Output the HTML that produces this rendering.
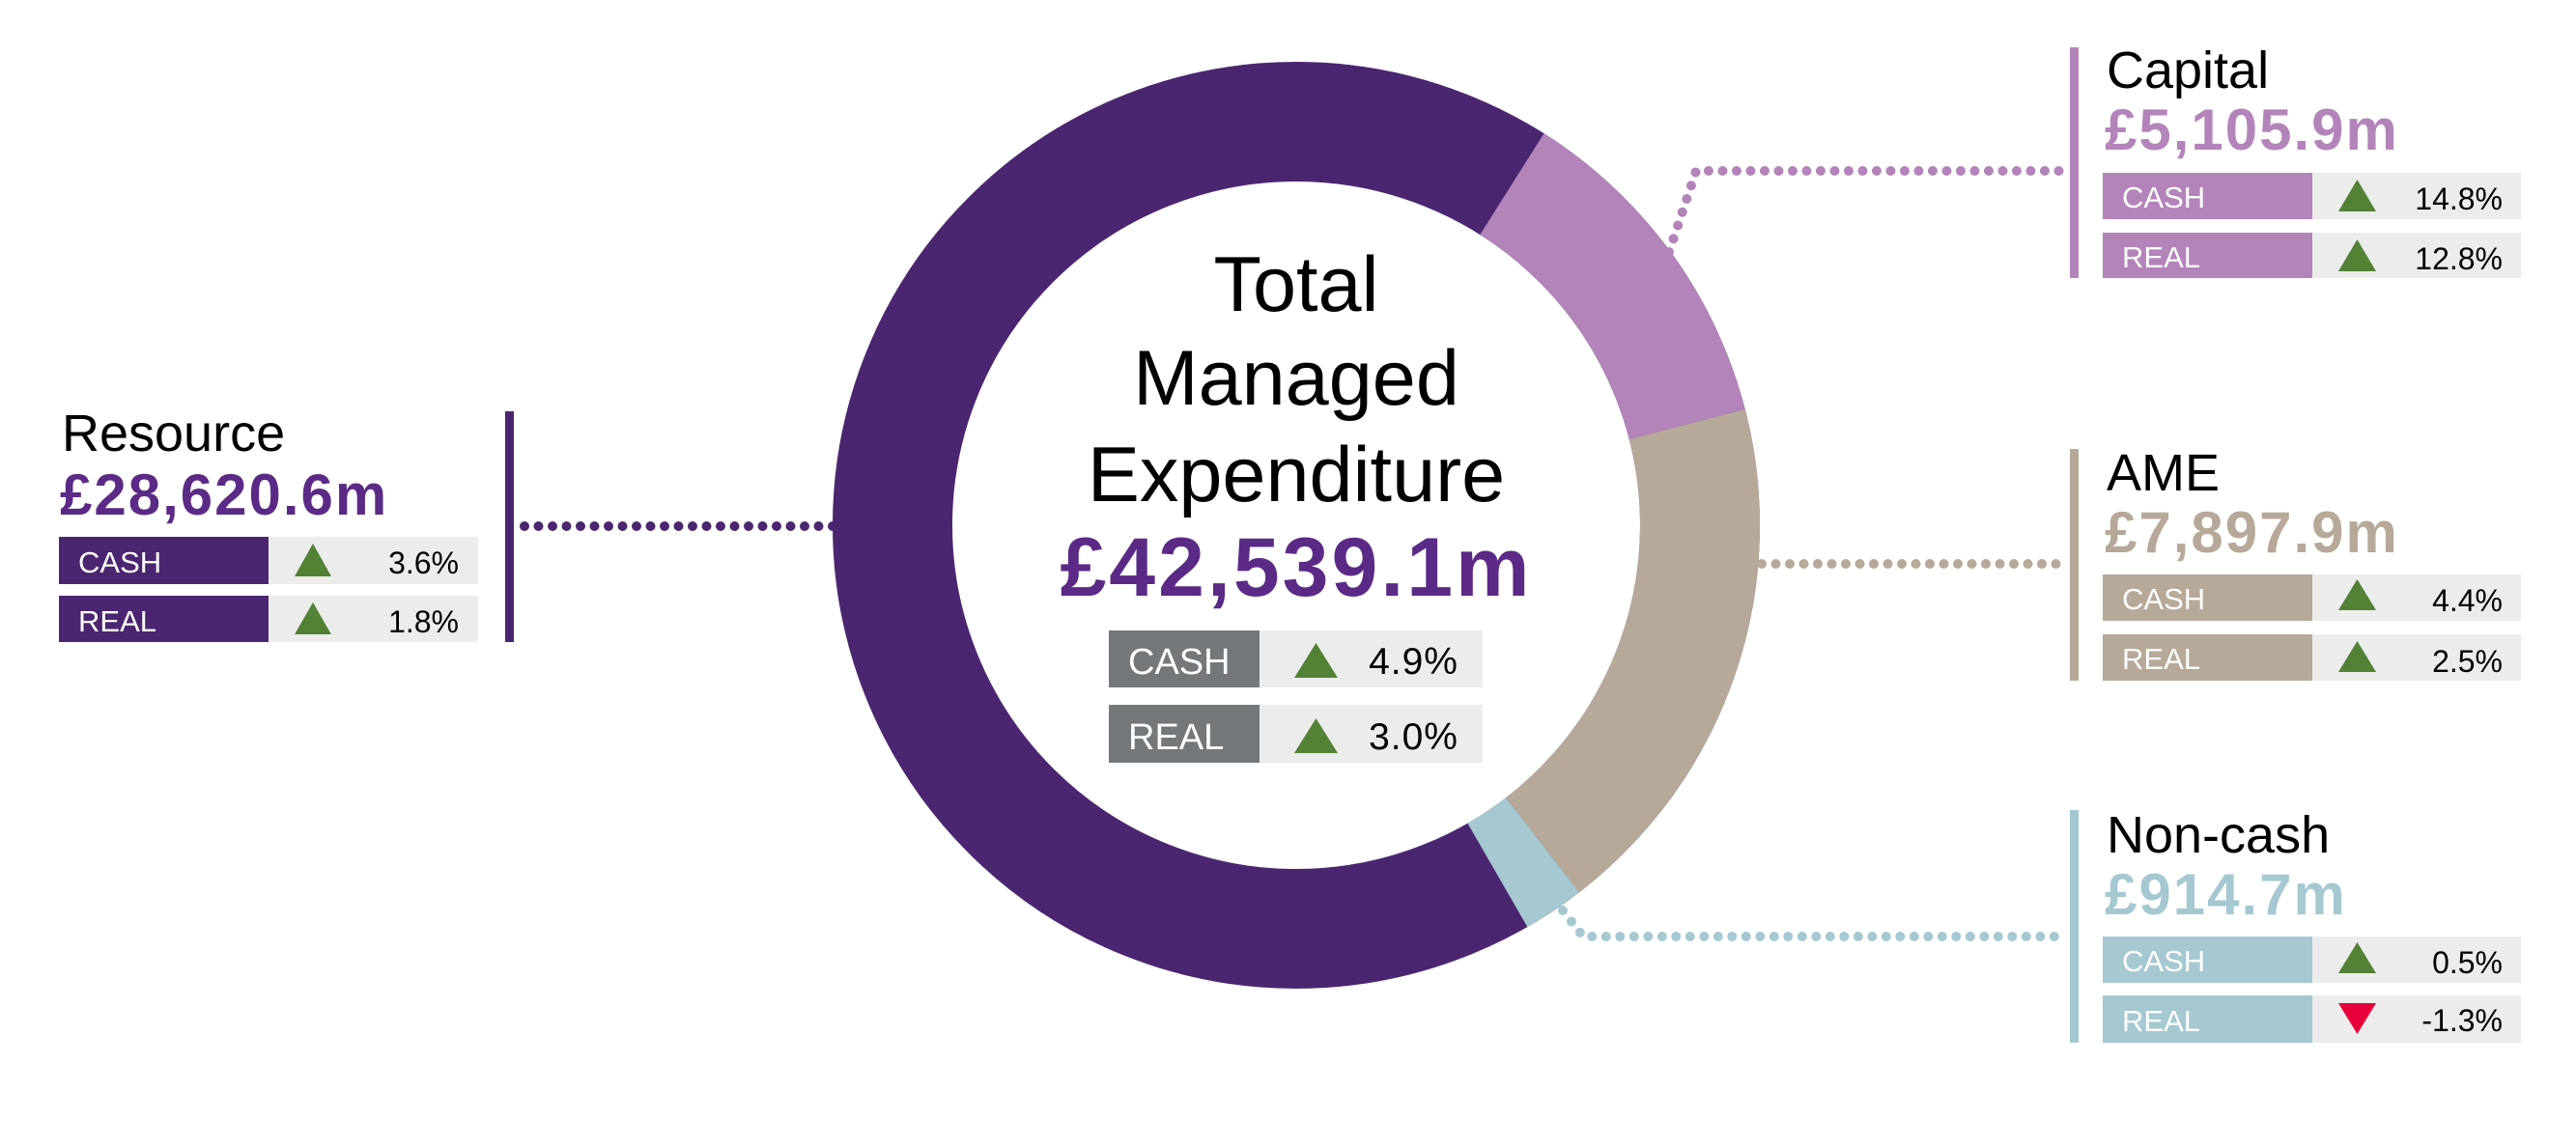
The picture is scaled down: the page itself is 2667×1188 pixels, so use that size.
<!DOCTYPE html>
<html><head><meta charset="utf-8"><style>
html,body{margin:0;padding:0;background:#fff}
svg{display:block}
text{font-family:"Liberation Sans",sans-serif}
</style></head><body>
<svg width="2667" height="1188" viewBox="0 0 2667 1188" xmlns="http://www.w3.org/2000/svg">
<circle cx="1342" cy="544" r="418" fill="none" stroke="#4b2670" stroke-width="124"/>
<path d="M1565.4,190.7 A418,418 0 0 1 1746.7,439.3" fill="none" stroke="#b384b9" stroke-width="124"/>
<path d="M1746.7,439.3 A418,418 0 0 1 1597.0,875.2" fill="none" stroke="#b6a999" stroke-width="124"/>
<path d="M1597.0,875.2 A418,418 0 0 1 1550.4,906.4" fill="none" stroke="#a5c8d1" stroke-width="124"/>

<g fill="none" stroke-width="10" stroke-linecap="round" stroke-dasharray="0 14.5">
<path d="M862,545 L535,545" stroke="#4b2670"/>
<path d="M1728,261 L1756,177 L2142,177" stroke="#b384b9"/>
<path d="M1824,584 L2142,584" stroke="#b6a999"/>
<path d="M1618,943 L1639,970 L2140,970" stroke="#a5c8d1"/>
</g>

<g text-anchor="middle" fill="#000">
<text x="1342" y="322" font-size="81">Total</text>
<text x="1342" y="419" font-size="81">Managed</text>
<text x="1342" y="519" font-size="81">Expenditure</text>
<text x="1342" y="617" font-size="86" font-weight="bold" letter-spacing="3" fill="#5b2a86">£42,539.1m</text>
</g>
<rect x="1148" y="653" width="156" height="59" fill="#74787b"/>
<rect x="1304" y="653" width="231" height="59" fill="#ececec"/>
<rect x="1148" y="730" width="156" height="60" fill="#74787b"/>
<rect x="1304" y="730" width="231" height="60" fill="#ececec"/>
<text x="1168" y="698" font-size="38" fill="#fff">CASH</text>
<text x="1168" y="776" font-size="38" fill="#fff">REAL</text>
<polygon points="1340,702 1385,702 1362.5,666" fill="#538135"/>
<polygon points="1340,780 1385,780 1362.5,744" fill="#538135"/>
<text x="1510" y="698" font-size="39" text-anchor="end" letter-spacing="1">4.9%</text>
<text x="1510" y="776" font-size="39" text-anchor="end" letter-spacing="1">3.0%</text>

<rect x="523" y="426" width="9" height="239" fill="#4b2670"/>
<text x="64" y="467" font-size="54">Resource</text>
<text x="62" y="533" font-size="60" font-weight="bold" letter-spacing="2" fill="#5b2a86">£28,620.6m</text>
<rect x="61" y="556" width="217" height="49" fill="#4b2670"/>
<rect x="278" y="556" width="217" height="49" fill="#ececec"/>
<rect x="61" y="617" width="217" height="48" fill="#4b2670"/>
<rect x="278" y="617" width="217" height="48" fill="#ececec"/>
<text x="81" y="593" font-size="31" fill="#fff">CASH</text>
<text x="81" y="654" font-size="31" fill="#fff">REAL</text>
<polygon points="305,597 343,597 324,563" fill="#538135"/>
<polygon points="305,657 343,657 324,624" fill="#538135"/>
<text x="475" y="594" font-size="32" text-anchor="end">3.6%</text>
<text x="475" y="655" font-size="32" text-anchor="end">1.8%</text>

<rect x="2143" y="49" width="9" height="239" fill="#b384b9"/>
<text x="2181" y="91" font-size="54">Capital</text>
<text x="2179" y="155" font-size="60" font-weight="bold" letter-spacing="2" fill="#b384b9">£5,105.9m</text>
<rect x="2177" y="179" width="217" height="48" fill="#b384b9"/>
<rect x="2394" y="179" width="216" height="48" fill="#ececec"/>
<rect x="2177" y="241" width="217" height="47" fill="#b384b9"/>
<rect x="2394" y="241" width="216" height="47" fill="#ececec"/>
<text x="2197" y="215" font-size="31" fill="#fff">CASH</text>
<text x="2197" y="277" font-size="31" fill="#fff">REAL</text>
<polygon points="2421,219 2460,219 2440.5,186" fill="#538135"/>
<polygon points="2421,281 2460,281 2440.5,248" fill="#538135"/>
<text x="2591" y="217" font-size="32" text-anchor="end">14.8%</text>
<text x="2591" y="279" font-size="32" text-anchor="end">12.8%</text>

<rect x="2143" y="465" width="9" height="240" fill="#b6a999"/>
<text x="2181" y="508" font-size="54">AME</text>
<text x="2179" y="572" font-size="60" font-weight="bold" letter-spacing="2" fill="#b6a999">£7,897.9m</text>
<rect x="2177" y="595" width="217" height="48" fill="#b6a999"/>
<rect x="2394" y="595" width="216" height="48" fill="#ececec"/>
<rect x="2177" y="657" width="217" height="48" fill="#b6a999"/>
<rect x="2394" y="657" width="216" height="48" fill="#ececec"/>
<text x="2197" y="631" font-size="31" fill="#fff">CASH</text>
<text x="2197" y="693" font-size="31" fill="#fff">REAL</text>
<polygon points="2421,632 2460,632 2440.5,600" fill="#538135"/>
<polygon points="2421,696 2460,696 2440.5,664" fill="#538135"/>
<text x="2591" y="633" font-size="32" text-anchor="end">4.4%</text>
<text x="2591" y="696" font-size="32" text-anchor="end">2.5%</text>

<rect x="2143" y="839" width="9" height="241" fill="#a5c8d1"/>
<text x="2181" y="883" font-size="54">Non-cash</text>
<text x="2179" y="947" font-size="60" font-weight="bold" letter-spacing="2" fill="#a5c8d1">£914.7m</text>
<rect x="2177" y="970" width="217" height="48" fill="#a5c8d1"/>
<rect x="2394" y="970" width="216" height="48" fill="#ececec"/>
<rect x="2177" y="1031" width="217" height="49" fill="#a5c8d1"/>
<rect x="2394" y="1031" width="216" height="49" fill="#ececec"/>
<text x="2197" y="1006" font-size="31" fill="#fff">CASH</text>
<text x="2197" y="1068" font-size="31" fill="#fff">REAL</text>
<polygon points="2421,1008 2460,1008 2440.5,976" fill="#538135"/>
<polygon points="2421,1039 2460,1039 2440.5,1071" fill="#e8003c"/>
<text x="2591" y="1008" font-size="32" text-anchor="end">0.5%</text>
<text x="2591" y="1068" font-size="32" text-anchor="end">-1.3%</text>
</svg>
</body></html>
